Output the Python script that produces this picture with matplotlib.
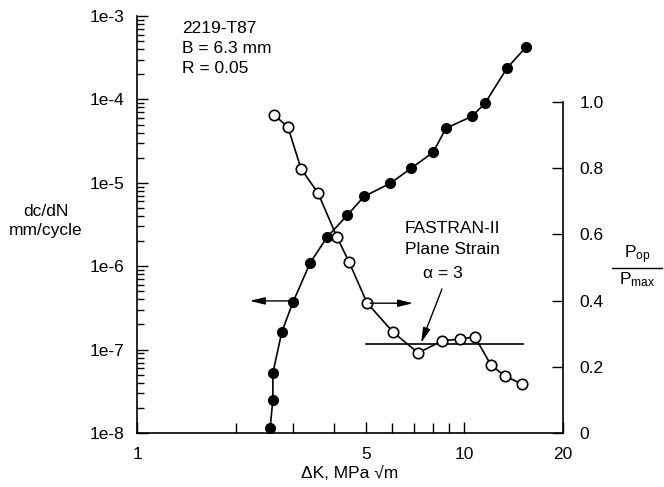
import matplotlib
matplotlib.use("Agg")
import matplotlib.pyplot as plt
from matplotlib.lines import Line2D
from matplotlib.ticker import FixedLocator, FuncFormatter, NullFormatter
import numpy as np

plt.rcParams['font.family'] = ['Liberation Sans', 'DejaVu Sans']
plt.rcParams['mathtext.fontset'] = 'custom'
plt.rcParams['mathtext.rm'] = 'Liberation Sans'
plt.rcParams['mathtext.it'] = 'Liberation Sans:italic'

# Crack growth rate (filled circles), left axis
dk_rate = [2.55, 2.60, 2.60, 2.77, 3.00, 3.38, 3.81, 4.38, 4.94, 5.93,
           6.87, 8.02, 8.79, 10.55, 11.56, 13.49, 15.42]
dcdn = [1.15e-8, 2.49e-8, 5.26e-8, 1.64e-7, 3.76e-7, 1.10e-6, 2.24e-6, 4.06e-6,
        6.87e-6, 9.84e-6, 1.49e-5, 2.32e-5, 4.51e-5, 6.28e-5, 9.0e-5, 2.37e-4, 4.24e-4]

# Crack opening load ratio (open circles), right axis
dk_open = [2.62, 2.89, 3.17, 3.57, 4.08, 4.44, 5.04, 6.05, 7.22, 8.54,
           9.70, 10.77, 12.06, 13.30, 15.0]
pop_pmax = [0.961, 0.924, 0.798, 0.725, 0.592, 0.517, 0.393, 0.305, 0.242, 0.278,
            0.284, 0.290, 0.205, 0.172, 0.148]

# FASTRAN-II plane strain line
fastran_dk = [5.0, 15.1]
fastran_ratio = [0.269, 0.269]

fs = 12.5

fig = plt.figure(figsize=(6.64, 4.87), dpi=100)
ax = fig.add_axes([137/664, 1 - 433/487, 426/664, 417/487])
ax2 = ax.twinx()

ax.plot(dk_rate, dcdn, '-o', color='black', mfc='black', mec='black',
        ms=7, lw=1.2, zorder=3)
ax2.plot(dk_open, pop_pmax, '-o', color='black', mfc='white', mec='black',
         ms=7.5, mew=1.2, lw=1.2, zorder=3)
ax2.plot(fastran_dk, fastran_ratio, color='black', lw=1.2, zorder=2)

ax.set_xscale('log')
ax.set_yscale('log')
ax.set_xlim(1, 20)
ax.set_ylim(1e-8, 1e-3)
ax2.set_ylim(0, 1.0 / 0.794)

ax.xaxis.set_major_locator(FixedLocator([1, 5, 10, 20]))
ax.xaxis.set_major_formatter(FuncFormatter(lambda v, p: f'{v:g}'))
ax.xaxis.set_minor_locator(FixedLocator([2, 3, 4, 6, 7, 8, 9]))
ax.xaxis.set_minor_formatter(NullFormatter())
ax.yaxis.set_major_formatter(FuncFormatter(lambda v, p: f'1e{int(round(np.log10(v)))}'))

ax.tick_params(which='both', direction='in', labelsize=fs, width=1, colors='black')
ax.tick_params(which='major', length=8)
ax.tick_params(which='minor', length=5)
ax.tick_params(axis='x', which='major', pad=10)
ax.tick_params(axis='x', which='minor', length=7)
ax.tick_params(axis='y', pad=9)

ax2.set_yticks([0, 0.2, 0.4, 0.6, 0.8, 1.0])
ax2.yaxis.set_major_formatter(FuncFormatter(lambda v, p: '0' if v == 0 else f'{v:.1f}'))
ax2.tick_params(direction='in', length=8, width=1, labelsize=fs, pad=12)

for s in ['top', 'right']:
    ax.spines[s].set_visible(False)
for s in ['top', 'left', 'bottom']:
    ax2.spines[s].set_visible(False)
ax2.spines['right'].set_bounds(0, 1.0)
for a in (ax, ax2):
    for s in a.spines.values():
        s.set_linewidth(1.2)

ax.set_xlabel('ΔK, MPa √m', fontsize=fs, labelpad=3)

ax.text(0.106, 0.971, '2219-T87', transform=ax.transAxes, fontsize=fs, va='center')
ax.text(0.106, 0.923, 'B = 6.3 mm', transform=ax.transAxes, fontsize=fs, va='center')
ax.text(0.106, 0.875, 'R = 0.05', transform=ax.transAxes, fontsize=fs, va='center')

# direction arrows
arrow = dict(arrowstyle='-|>,head_length=0.9,head_width=0.22', color='black', lw=1,
             shrinkA=0, shrinkB=0)
ax2.annotate('', xy=(2.21, 0.399), xytext=(2.99, 0.399), arrowprops=arrow)
ax2.annotate('', xy=(6.97, 0.392), xytext=(5.15, 0.392), arrowprops=arrow)

ax2.text(9.16, 0.619, 'FASTRAN-II', ha='center', va='center', fontsize=fs)
ax2.text(9.16, 0.553, 'Plane Strain', ha='center', va='center', fontsize=fs)
ax2.text(8.61, 0.483, 'α = 3', ha='center', va='center', fontsize=fs)
ax2.annotate('', xy=(7.37, 0.272), xytext=(8.54, 0.435), arrowprops=arrow)

fig.text(46/664, 1 - 221/487, 'dc/dN\nmm/cycle', ha='center', va='center',
         fontsize=fs, linespacing=1.35)
fig.text(637/664, 1 - 266/487, r'P$_{\mathrm{op}}$', ha='center', va='bottom', fontsize=fs)
fig.text(637/664, 1 - 270/487, r'P$_{\mathrm{max}}$', ha='center', va='top', fontsize=fs)
fig.add_artist(Line2D([612/664, 662/664], [1 - 268/487] * 2, color='black', lw=1))

fig.savefig('out.png', dpi=100)
